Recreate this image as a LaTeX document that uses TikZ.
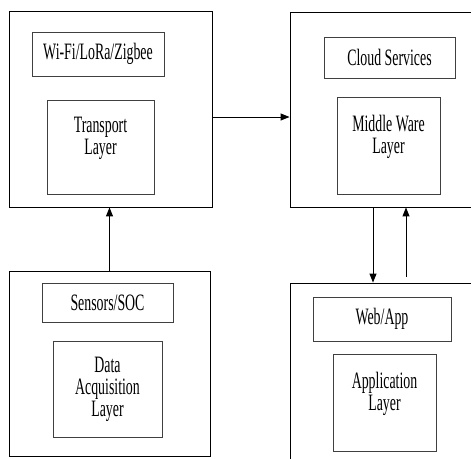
\documentclass[tikz,border=0pt]{standalone}
\usepackage{fontspec}
\setmainfont[FakeStretch=0.59]{Liberation Serif}
\usetikzlibrary{arrows.meta, positioning}

\begin{document}
\begin{tikzpicture}[x=1pt, y=-1pt,
    font=\fontsize{23.5pt}{22pt}\selectfont,
    outer/.style={draw, line width=0.9pt, inner sep=0pt},
    inner/.style={draw=black!75, line width=0.7pt, inner sep=0pt, align=center},
    arr/.style={-{Triangle[length=9pt, width=7pt]}, line width=1pt}]

\clip (0,0) rectangle (471,458);

% outer layer boxes (the right ones run off the page)
\node[outer, minimum width=203pt, minimum height=196pt] (tl) at (110.5,109) {};
\node[outer, minimum width=200pt, minimum height=195pt] (tr) at (390,109.5) {};
\node[outer, minimum width=201pt, minimum height=185pt] (bl) at (109.5,363.5) {};
\node[outer, minimum width=200pt, minimum height=197pt] (br) at (390,381.5) {};

% transport
\node[inner, minimum width=132pt, minimum height=44pt] (wifi) at (98,54) {Wi-Fi/LoRa/Zigbee};
\node[inner, minimum width=107pt, minimum height=94pt] (trans) at (100.5,147) {Transport\\Layer\\~};

% middle ware
\node[inner, minimum width=131pt, minimum height=41pt] (cloud) at (389.5,57.5) {Cloud Services};
\node[inner, minimum width=103pt, minimum height=97pt] (mid) at (388.5,145.5) {Middle Ware\\Layer\\~};

% data acquisition
\node[inner, minimum width=131pt, minimum height=39pt] (sens) at (107.5,302.5) {Sensors/SOC};
\node[inner, minimum width=109pt, minimum height=96pt] (daq) at (107.5,389) {Data\\Acquisition\\Layer};

% application
\node[inner, minimum width=138pt, minimum height=44pt] (web) at (382,319) {Web/App};
\node[inner, minimum width=103pt, minimum height=97pt] (app) at (384.5,402.5) {Application\\Layer\\~};

% connectors
\draw[arr] (bl.north) -- (bl.north |- tl.south);
\draw[arr] ([yshift=-8pt]tl.east) -- ([yshift=-8pt]tl.east -| tr.west);
\draw[arr] (tr.south -| 373,0) -- (br.north -| 373,0);
\draw[arr] ([yshift=6pt]br.north -| 406,0) -- (tr.south -| 406,0);
\end{tikzpicture}
\end{document}
